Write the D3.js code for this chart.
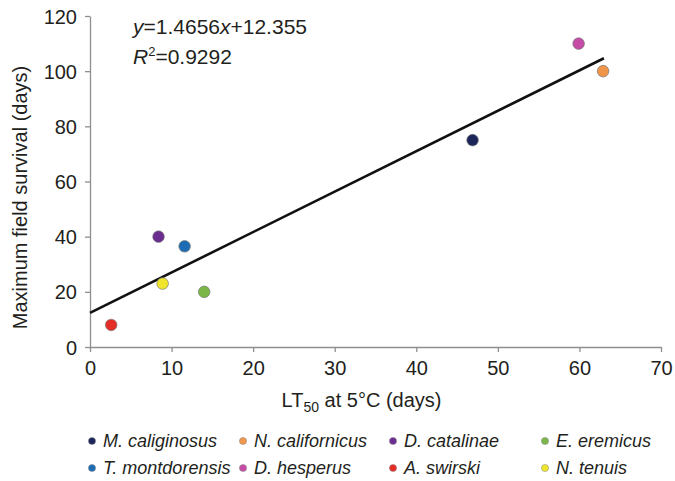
<!DOCTYPE html>
<html>
<head>
<meta charset="utf-8">
<script src="https://cdn.jsdelivr.net/npm/d3@7"></script>
<style>
  html, body { margin: 0; padding: 0; background: #fff; }
  svg { display: block; font-family: "Liberation Sans", Arial, Helvetica, sans-serif; }
</style>
</head>
<body>
<svg id="chart" width="675" height="481"></svg>
<script>
// ---- data ----
const species = ["M. caliginosus", "N. californicus", "D. catalinae", "E. eremicus",
                 "T. montdorensis", "D. hesperus", "A. swirski", "N. tenuis"];
const lt50 = [46.9, 62.9, 8.4, 14.0, 11.6, 59.9, 2.6, 8.9];
const survival = [75, 100, 40, 20, 36.5, 110, 8, 23];
const colors = ["#1c2559", "#f0964a", "#6b2d8f", "#7ab648", "#1d6db5", "#c64ba6", "#e52d27", "#efe52c"];
const slope = 1.4656, intercept = 12.355, r2 = 0.9292;
const fitRange = [0, 63];
const xTicks = [0, 10, 20, 30, 40, 50, 60, 70];
const yTicks = [0, 20, 40, 60, 80, 100, 120];

// ---- layout ----
const svg = d3.select("#chart");
const mLeft = 90, mRight = 661, mTop = 16, mBottom = 347;
const x = d3.scaleLinear().domain([0, 70]).range([mLeft, mRight]);
const y = d3.scaleLinear().domain([0, 120]).range([mBottom, mTop]);
const axisColor = "#8f8f8f";
const textColor = "#231f20";

// axes
const gx = svg.append("g").attr("transform", `translate(0,${mBottom})`)
  .call(d3.axisBottom(x).tickValues(xTicks).tickSize(5).tickPadding(9).tickSizeOuter(0));
const gy = svg.append("g").attr("transform", `translate(${mLeft},0)`)
  .call(d3.axisLeft(y).tickValues(yTicks).tickSize(5).tickPadding(8).tickSizeOuter(0));
[gx, gy].forEach(g => {
  g.select(".domain").attr("stroke", axisColor).attr("stroke-width", 1.3);
  g.selectAll(".tick line").attr("stroke", axisColor).attr("stroke-width", 1.3);
  g.selectAll(".tick text").attr("fill", textColor).style("font-size", "20px")
    .style("font-family", "'Liberation Sans', Arial, sans-serif");
});
gy.selectAll(".tick text").attr("dy", "0.35em");

// axis titles
const xt = svg.append("text").attr("x", (mLeft + mRight) / 2 - 14).attr("y", 407)
  .attr("text-anchor", "middle").attr("fill", textColor).style("font-size", "20px");
xt.append("tspan").text("LT");
xt.append("tspan").text("50").style("font-size", "14px").attr("dy", 5);
xt.append("tspan").text(" at 5°C (days)").attr("dy", -5);

svg.append("text").attr("transform", `translate(27,${(mTop + mBottom) / 2 + 16}) rotate(-90)`)
  .attr("text-anchor", "middle").attr("fill", textColor).style("font-size", "20px")
  .text("Maximum field survival (days)");

// regression line
svg.append("line")
  .attr("x1", x(fitRange[0])).attr("y1", y(slope * fitRange[0] + intercept))
  .attr("x2", x(fitRange[1])).attr("y2", y(slope * fitRange[1] + intercept))
  .attr("stroke", "#111").attr("stroke-width", 2.6);

// points
svg.append("g").selectAll("circle").data(species).join("circle")
  .attr("cx", (d, i) => x(lt50[i])).attr("cy", (d, i) => y(survival[i]))
  .attr("r", 5.8).attr("fill", (d, i) => colors[i])
  .attr("stroke", "#7a7a7a").attr("stroke-width", 0.7);

// equation
const eq = svg.append("text").attr("x", 133).attr("y", 34).attr("fill", textColor).style("font-size", "21px");
eq.append("tspan").text("y").style("font-style", "italic");
eq.append("tspan").text("=" + slope + "");
eq.append("tspan").text("x").style("font-style", "italic");
eq.append("tspan").text("+" + intercept);
const rt = svg.append("text").attr("x", 133).attr("y", 64).attr("fill", textColor).style("font-size", "21px");
rt.append("tspan").text("R").style("font-style", "italic");
rt.append("tspan").text("2").style("font-size", "13px").attr("dy", -8);
rt.append("tspan").text("=" + r2).attr("dy", 8);

// legend
const colX = [92, 243, 393, 545];
const rowY = [441, 468];
const lg = svg.append("g").selectAll("g").data(species).join("g")
  .attr("transform", (d, i) => `translate(${colX[i % 4]},${rowY[Math.floor(i / 4)]})`);
lg.append("circle").attr("r", 3.6).attr("fill", (d, i) => colors[i])
  .attr("stroke", "#8a8a8a").attr("stroke-width", 0.5);
lg.append("text").attr("x", 11).attr("y", 6).attr("fill", textColor)
  .style("font-size", "18px").style("font-style", "italic").text(d => d);
</script>
</body>
</html>
